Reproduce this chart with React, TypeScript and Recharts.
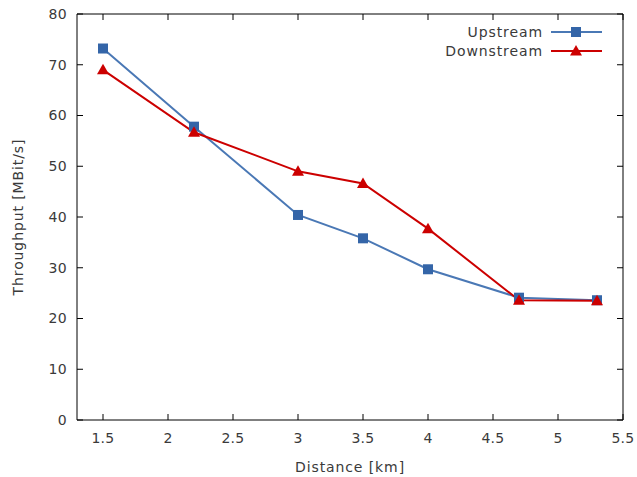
import { LineChart, Line, XAxis, YAxis, Legend } from 'recharts';

const distances = [1.5, 2.2, 3, 3.5, 4, 4.7, 5.3];
const upstream = [73.2, 57.8, 40.4, 35.8, 29.7, 24.1, 23.6];
const downstream = [69.0, 56.7, 49.0, 46.6, 37.7, 23.6, 23.5];
const xTicks = [1.5, 2, 2.5, 3, 3.5, 4, 4.5, 5, 5.5];
const yTicks = [0, 10, 20, 30, 40, 50, 60, 70, 80];

const BLUE = '#4a78b5';
const BLUE_MARK = '#3465a8';
const RED = '#cc0000';
const FONT = '"DejaVu Sans", Verdana, sans-serif';
const TEXT = '#3a3a3a';

const data = distances.map((d, i) => ({
  distance: d,
  up: upstream[i],
  down: downstream[i],
}));

const Square = ({ cx, cy }: any) => (
  <rect x={cx - 5} y={cy - 5} width={10} height={10} fill={BLUE_MARK} />
);

const Triangle = ({ cx, cy }: any) => (
  <path d={`M${cx},${cy - 6} L${cx + 6},${cy + 4.5} L${cx - 6},${cy + 4.5} Z`} fill={RED} />
);

const tickText = { fill: TEXT, fontSize: 14, letterSpacing: 0.3, fontFamily: FONT };
const labelText = { fill: TEXT, fontSize: 14, letterSpacing: 0.9, fontFamily: FONT };

const BottomTick = ({ x, y, payload }: any) => (
  <g>
    <line x1={x} x2={x} y1={y - 13} y2={y - 19} stroke="#000" />
    <text x={x} y={y} dy="0.71em" textAnchor="middle" {...tickText}>
      {payload.value}
    </text>
  </g>
);

const TopTick = ({ x, y }: any) => <line x1={x} x2={x} y1={y} y2={y + 6} stroke="#000" />;

const LeftTick = ({ x, y, payload }: any) => (
  <g>
    <line x1={x + 10} x2={x + 16} y1={y} y2={y} stroke="#000" />
    <text x={x} y={y} dy="0.355em" textAnchor="end" {...tickText}>
      {payload.value}
    </text>
  </g>
);

const RightTick = ({ x, y }: any) => <line x1={x} x2={x - 6} y1={y} y2={y} stroke="#000" />;

const LegendBox = () => (
  <svg width={220} height={42} style={{ display: 'block' }}>
    <text x={153} y={12} dy="0.355em" textAnchor="end" {...labelText}>
      Upstream
    </text>
    <line x1={161} x2={212} y1={12} y2={12} stroke={BLUE} strokeWidth={2} />
    <rect x={181} y={7} width={10} height={10} fill={BLUE_MARK} />
    <text x={153} y={31} dy="0.355em" textAnchor="end" {...labelText}>
      Downstream
    </text>
    <line x1={161} x2={212} y1={31} y2={31} stroke={RED} strokeWidth={2} />
    <path d="M186,25 L192,35.5 L180,35.5 Z" fill={RED} />
  </svg>
);

export default function App() {
  return (
    <div style={{ position: 'absolute', left: 0, top: 0, background: '#fff' }}>
      <LineChart width={637} height={477} data={data} margin={{ top: 13, right: 13, bottom: 27, left: 37 }}>
        <XAxis
          dataKey="distance"
          type="number"
          domain={[1.3, 5.5]}
          ticks={xTicks}
          allowDataOverflow
          height={30}
          tickSize={0}
          tickMargin={13}
          tick={<BottomTick />}
          axisLine={{ stroke: '#000' }}
          label={{
            content: ({ viewBox }: any) => (
              <text x={viewBox.x + viewBox.width / 2} y={viewBox.y + 52} textAnchor="middle" {...labelText}>
                Distance [km]
              </text>
            ),
          }}
        />
        <XAxis
          xAxisId="top"
          dataKey="distance"
          orientation="top"
          type="number"
          domain={[1.3, 5.5]}
          ticks={xTicks}
          allowDataOverflow
          height={1}
          tickSize={0}
          tickMargin={0}
          tick={<TopTick />}
          axisLine={{ stroke: '#000' }}
        />
        <YAxis
          type="number"
          domain={[0, 80]}
          ticks={yTicks}
          width={40}
          tickSize={0}
          tickMargin={10}
          tick={<LeftTick />}
          axisLine={{ stroke: '#000' }}
          label={{
            content: ({ viewBox }: any) => {
              const cx = viewBox.x - 19;
              const cy = viewBox.y + viewBox.height / 2;
              return (
                <text
                  x={cx}
                  y={cy}
                  transform={`rotate(-90 ${cx} ${cy})`}
                  textAnchor="middle"
                  dy="0.355em"
                  {...labelText}
                >
                  Throughput [MBit/s]
                </text>
              );
            },
          }}
        />
        <YAxis
          yAxisId="right"
          orientation="right"
          type="number"
          domain={[0, 80]}
          ticks={yTicks}
          width={1}
          tickSize={0}
          tickMargin={0}
          tick={<RightTick />}
          axisLine={{ stroke: '#000' }}
        />
        <Legend
          layout="horizontal"
          verticalAlign="middle"
          wrapperStyle={{ top: 20, left: 390, width: 220, height: 42 }}
          content={<LegendBox />}
        />
        {/* invisible series so the mirrored top/right axes get drawn */}
        <Line
          xAxisId="top"
          yAxisId="right"
          dataKey="up"
          stroke="none"
          dot={false}
          activeDot={false}
          legendType="none"
          isAnimationActive={false}
        />
        <Line dataKey="up" stroke={BLUE} strokeWidth={2} dot={<Square />} activeDot={false} isAnimationActive={false} />
        <Line dataKey="down" stroke={RED} strokeWidth={2} dot={<Triangle />} activeDot={false} isAnimationActive={false} />
      </LineChart>
    </div>
  );
}
